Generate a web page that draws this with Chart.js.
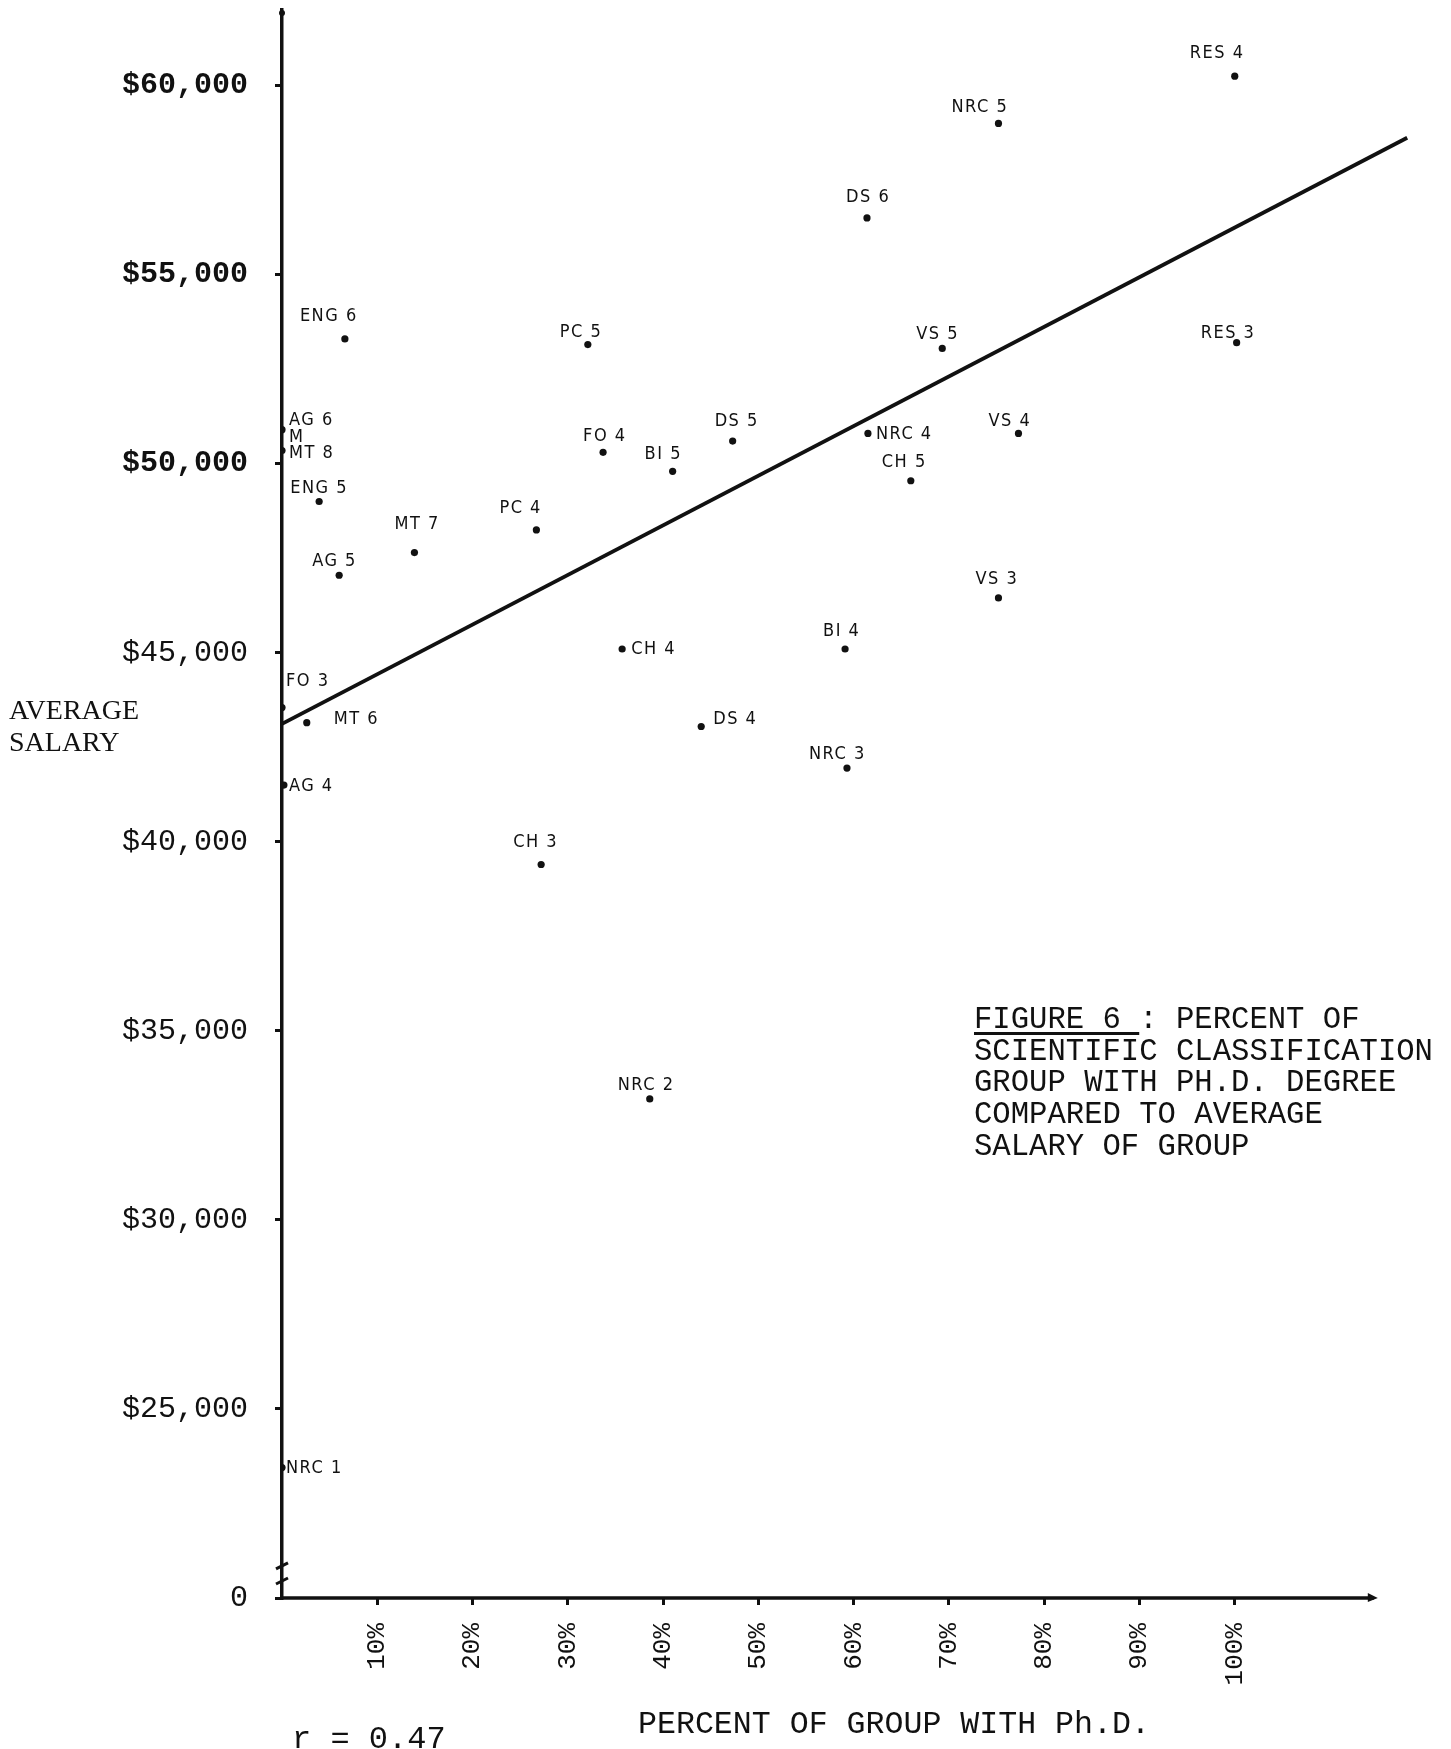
<!DOCTYPE html>
<html>
<head>
<meta charset="utf-8">
<title>Figure 6 - Percent with Ph.D. vs average salary</title>
<script src="https://cdn.jsdelivr.net/npm/chart.js@4.4.1/dist/chart.umd.min.js"></script>
<style>
  body { margin: 0; background: #fff; }
  #page { position: relative; width: 1451px; height: 1749px; overflow: hidden; background: #fff; }
  #chart { position: absolute; left: 0; top: 0; }
  .txt { position: absolute; color: #111; white-space: nowrap; }
  #y-title { left: 9px; top: 694px; font: 28px/32px "Liberation Serif", serif; }
  #x-title { left: 638px; top: 1708px; font: 31.6px/34px "Liberation Mono", monospace; }
  #r-value { left: 292px; top: 1723px; font: 32px/34px "Liberation Mono", monospace; }
  #caption { left: 974px; top: 1005px; font: 30.6px/31.7px "Liberation Mono", monospace; }
  #caption u { text-underline-offset: 4px; }
</style>
</head>
<body>
<div id="page">
  <canvas id="chart" width="1451" height="1749"></canvas>
  <div class="txt" id="y-title">AVERAGE<br>SALARY</div>
  <div class="txt" id="x-title">PERCENT OF GROUP WITH Ph.D.</div>
  <div class="txt" id="r-value">r = 0.47</div>
  <div class="txt" id="caption"><u>FIGURE 6 </u>: PERCENT OF<br>SCIENTIFIC CLASSIFICATION<br>GROUP WITH PH.D. DEGREE<br>COMPARED TO AVERAGE<br>SALARY OF GROUP</div>
</div>
<script>
// Scientific classification groups (label as printed next to each dot)
const groupLabels = ['RES 4', 'NRC 5', 'DS 6', 'ENG 6', 'PC 5', 'VS 5', 'RES 3',
  'AG 6', 'M', 'MT 8', 'ENG 5', 'AG 5', 'MT 7', 'PC 4', 'FO 4', 'BI 5', 'DS 5',
  'NRC 4', 'CH 5', 'VS 4', 'VS 3', 'BI 4', 'CH 4', 'DS 4', 'NRC 3', 'FO 3',
  'MT 6', 'AG 4', 'CH 3', 'NRC 2', 'NRC 1'];

// percent of group with Ph.D.
const phdPercent = [100, 75.2, 61.4, 6.6, 32.1, 69.3, 100.2,
  0, 0, 0, 3.9, 6.0, 13.9, 26.7, 33.7, 41.0, 47.3,
  61.5, 66.0, 77.3, 75.2, 59.1, 35.7, 44.0, 59.3, 0,
  2.6, 0.2, 27.2, 38.6, 0];

// average salary of group ($)
const avgSalary = [60250, 59000, 56500, 53300, 53150, 53050, 53200,
  50900, 50700, 50350, 49000, 47050, 47650, 48250, 50300, 49800, 50600,
  50800, 49550, 50800, 46450, 45100, 45100, 43050, 41950, 43550,
  43150, 41500, 39400, 33200, 23450];

// fitted line (r = 0.47), end points as drawn
const trendX = [0, 118.1];
const trendY = [43120, 58620];

// axis ticks; the y axis is broken, "0" sits one step below $25,000
const xTickValues = [10, 20, 30, 40, 50, 60, 70, 80, 90, 100];
const yTickValues = [20000, 25000, 30000, 35000, 40000, 45000, 50000, 55000, 60000];
const yTickLabels = ['0', '$25,000', '$30,000', '$35,000', '$40,000', '$45,000', '$50,000', '$55,000', '$60,000'];

// where the drawn x axis stops (arrow) and where the axis break sits
const X_AXIS_END = 114.6;
const Y_BREAK = [20450, 20850];

// label placement relative to its dot, in px [dx, dy]
const labelOffsets = {
  'RES 4': [-45, -23], 'NRC 5': [-47, -16], 'DS 6': [-21, -21], 'ENG 6': [-45, -23],
  'PC 5': [-28, -12], 'VS 5': [-26, -14], 'RES 3': [-36, -9], 'AG 6': [7, -9],
  'M': [7, 0], 'MT 8': [7, 3], 'ENG 5': [-29, -13], 'AG 5': [-27, -14],
  'MT 7': [-20, -28], 'PC 4': [-37, -22], 'FO 4': [-20, -16], 'BI 5': [-28, -17],
  'DS 5': [-18, -20], 'NRC 4': [8, 1], 'CH 5': [-29, -18], 'VS 4': [-30, -12],
  'VS 3': [-23, -19], 'BI 4': [-22, -18], 'CH 4': [9, 0], 'DS 4': [12, -7],
  'NRC 3': [-38, -14], 'FO 3': [4, -26], 'MT 6': [27, -3], 'AG 4': [5, 1],
  'CH 3': [-28, -22], 'NRC 2': [-32, -14], 'NRC 1': [4, 1]
};

const INK = '#111';
const MONO = '"Liberation Mono", "DejaVu Sans Mono", monospace';
const LABEL_FONT = '18px "Liberation Sans Narrow", "DejaVu Sans Condensed", "Liberation Sans", sans-serif';

const points = phdPercent.map((x, i) => ({ x: x, y: avgSalary[i] }));
const trend = trendX.map((x, i) => ({ x: x, y: trendY[i] }));

// x axis line with arrow, plus the break on the y axis
const axisPlugin = {
  id: 'axisLines',
  afterDatasetsDraw(chart) {
    const c = chart.ctx;
    const xs = chart.scales.x;
    const ys = chart.scales.y;
    const y0 = chart.chartArea.bottom;
    const x0 = xs.getPixelForValue(0);
    const x1 = xs.getPixelForValue(X_AXIS_END);
    c.save();
    c.strokeStyle = INK;
    c.fillStyle = INK;
    c.lineWidth = 3.5;
    c.beginPath();
    c.moveTo(x0, y0);
    c.lineTo(x1, y0);
    c.stroke();
    c.beginPath();
    c.moveTo(x1 + 4, y0);
    c.lineTo(x1 - 6, y0 - 5);
    c.lineTo(x1 - 6, y0 + 4);
    c.closePath();
    c.fill();
    // break marks
    c.lineWidth = 3;
    Y_BREAK.forEach(v => {
      const py = ys.getPixelForValue(v);
      c.beginPath();
      c.moveTo(x0 - 6, py + 3);
      c.lineTo(x0 + 6, py - 3);
      c.stroke();
    });
    // small dot at the top of the y axis
    c.beginPath();
    c.arc(x0, chart.chartArea.top + 3, 3, 0, Math.PI * 2);
    c.fill();
    c.restore();
  }
};

// group name next to each dot
const labelPlugin = {
  id: 'groupLabels',
  afterDatasetsDraw(chart) {
    const c = chart.ctx;
    const meta = chart.getDatasetMeta(0);
    c.save();
    c.font = LABEL_FONT;
    c.fillStyle = INK;
    c.textAlign = 'left';
    c.textBaseline = 'middle';
    if ('letterSpacing' in c) c.letterSpacing = '1.5px';
    meta.data.forEach((pt, i) => {
      const name = groupLabels[i];
      const off = labelOffsets[name] || [6, -12];
      c.fillText(name, pt.x + off[0], pt.y + off[1]);
    });
    c.restore();
  }
};

const ctx = document.getElementById('chart');
const chart = new Chart(ctx, {
  type: 'scatter',
  data: {
    datasets: [
      {
        label: 'Groups',
        data: points,
        backgroundColor: INK,
        borderWidth: 0,
        pointRadius: c => (groupLabels[c.dataIndex] === 'M' ? 0 : 3.6)
      },
      {
        label: 'Fit',
        data: trend,
        showLine: true,
        borderColor: INK,
        borderWidth: 3.8,
        pointRadius: 0,
        fill: false
      }
    ]
  },
  options: {
    responsive: false,
    animation: false,
    devicePixelRatio: 1,
    layout: { padding: { left: 0, top: 10, right: 40, bottom: 0 } },
    plugins: { legend: { display: false }, tooltip: { enabled: false } },
    scales: {
      x: {
        type: 'linear',
        min: 0,
        max: 118.5,
        afterBuildTicks: s => { s.ticks = xTickValues.map(v => ({ value: v })); },
        afterFit: s => { s.height = 151; s.paddingLeft = 0; s.paddingRight = 0; },
        border: { display: false },
        grid: { drawOnChartArea: false, tickLength: 7, lineWidth: 3, color: INK },
        ticks: {
          autoSkip: false,
          minRotation: 90,
          maxRotation: 90,
          padding: 18,
          color: INK,
          font: { family: MONO, size: 26 },
          callback: v => v + '%'
        }
      },
      y: {
        type: 'linear',
        min: 20000,
        max: 62000,
        afterBuildTicks: s => { s.ticks = yTickValues.map(v => ({ value: v })); },
        afterFit: s => { s.width = 282; s.paddingTop = 0; s.paddingBottom = 0; },
        border: { display: true, color: INK, width: 3.5 },
        grid: { drawOnChartArea: false, tickLength: 7, lineWidth: 3, color: INK },
        ticks: {
          padding: 27,
          color: INK,
          font: c => ({ family: MONO, size: 30, weight: c.tick && c.tick.value >= 50000 ? 'bold' : 'normal' }),
          callback: v => yTickLabels[yTickValues.indexOf(v)]
        }
      }
    }
  },
  plugins: [axisPlugin, labelPlugin]
});
console.log('Figure 6 drawn', chart.chartArea);
</script>
</body>
</html>
